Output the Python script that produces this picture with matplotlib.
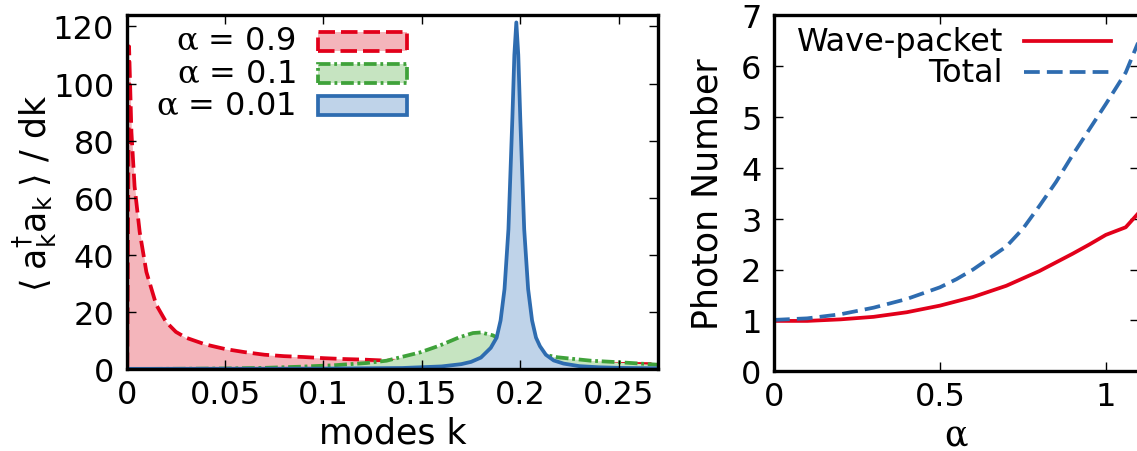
import matplotlib
matplotlib.use("Agg")
import matplotlib.pyplot as plt
from matplotlib.patches import Rectangle

plt.rcParams['font.family'] = ['DejaVu Sans']

# ---- left panel: mode occupation per dk ----
k_a09 = [0.0003, 0.0012, 0.0024, 0.004, 0.0066, 0.010, 0.015, 0.020, 0.025, 0.030,
         0.040, 0.050, 0.060, 0.070, 0.080, 0.090, 0.100, 0.110, 0.120, 0.130,
         0.140, 0.160, 0.180, 0.200, 0.220, 0.240, 0.260, 0.270]
n_a09 = [0.0, 113.0, 83.0, 64.0, 48.0, 34.0, 22.5, 16.5, 13.0, 11.0,
         8.6, 7.0, 5.9, 5.0, 4.5, 4.2, 3.8, 3.5, 3.3, 3.0,
         2.8, 2.5, 2.3, 2.1, 1.95, 1.85, 1.75, 1.7]

k_a01 = [0.0, 0.030, 0.050, 0.070, 0.088, 0.105, 0.122, 0.132, 0.139, 0.149,
         0.159, 0.169, 0.176, 0.180, 0.186, 0.190, 0.195, 0.200, 0.205, 0.210,
         0.219, 0.236, 0.252, 0.270]
n_a01 = [0.0, 0.1, 0.2, 0.4, 0.8, 1.3, 2.1, 2.9, 4.1, 5.8,
         8.2, 11.1, 12.6, 12.8, 11.8, 10.4, 8.8, 7.4, 6.2, 5.3,
         4.1, 2.9, 2.3, 1.5]

k_a001 = [0.0, 0.050, 0.100, 0.140, 0.160, 0.170, 0.175, 0.180, 0.185, 0.188,
          0.190, 0.192, 0.194, 0.196, 0.197, 0.198, 0.199, 0.200, 0.202, 0.204,
          0.206, 0.208, 0.210, 0.213, 0.217, 0.222, 0.230, 0.240, 0.250, 0.270]
n_a001 = [0.05, 0.09, 0.14, 0.35, 0.9, 1.7, 2.5, 4.0, 7.4, 11.0,
          17.0, 28.0, 49.0, 88.0, 110.0, 121.4, 110.0, 88.0, 49.0, 28.0,
          17.0, 11.0, 8.0, 5.0, 3.0, 1.9, 1.0, 0.6, 0.4, 0.25]

left_labels = ['0.9', '0.1', '0.01']

# ---- right panel: photon number vs alpha ----
alpha_wp = [0.0, 0.1, 0.2, 0.3, 0.4, 0.5, 0.6, 0.7, 0.8, 0.9, 0.95, 1.0, 1.06, 1.1]
n_wp = [0.99, 0.99, 1.02, 1.07, 1.16, 1.29, 1.46, 1.68, 1.97, 2.31, 2.49, 2.68, 2.83, 3.12]

alpha_tot = [0.0, 0.1, 0.2, 0.3, 0.4, 0.5, 0.55, 0.6, 0.7, 0.75, 0.8, 0.85, 0.9, 1.0, 1.06, 1.1]
n_tot = [1.01, 1.04, 1.12, 1.25, 1.42, 1.65, 1.81, 2.0, 2.45, 2.8, 3.25, 3.72, 4.25, 5.25, 5.87, 6.5]

RED, RED_F = '#e2001a', '#f4b5bb'
GREEN, GREEN_F = '#3fa23a', '#c6e4c1'
BLUE, BLUE_F = '#2e6cb0', '#bfd3e9'

W, H = 1137, 452
fig = plt.figure(figsize=(W / 100, H / 100), dpi=100)

def frac(x0, y0, x1, y1):
    return [x0 / W, 1 - y1 / H, (x1 - x0) / W, (y1 - y0) / H]

ax1 = fig.add_axes(frac(126.7, 16, 658, 370))
ax2 = fig.add_axes(frac(774, 16, 1139, 372.3))

LW = 2.7
TS = 23
DASH_R = (4.4, 1.6)
DASH_G = (3.4, 1.0, 0.75, 1.0)
DASH_B = (4.2, 1.9)

for ax in (ax1, ax2):
    for s in ax.spines.values():
        s.set_linewidth(2.4)
    ax.tick_params(direction='in', length=6.5, width=1.0, top=True, right=True,
                   labelsize=TS)
    ax.tick_params(axis='y', pad=9)
    ax.tick_params(axis='x', pad=7)

# left panel curves
ax1.fill_between(k_a09, n_a09, color=RED_F, lw=0, zorder=1.0)
ax1.plot(k_a09, n_a09, color=RED, lw=LW, dashes=DASH_R, zorder=1.1)
ax1.fill_between(k_a01, n_a01, color=GREEN_F, lw=0, zorder=1.2)
ax1.plot(k_a01, n_a01, color=GREEN, lw=LW, dashes=DASH_G, zorder=1.3)
ax1.fill_between(k_a001, n_a001, color=BLUE_F, lw=0, zorder=1.4)
ax1.plot(k_a001, n_a001, color=BLUE, lw=LW, zorder=1.5)

ax1.set_xlim(0, 0.27)
ax1.set_ylim(0, 124)
ax1.set_xticks([0, 0.05, 0.1, 0.15, 0.2, 0.25])
ax1.set_xticklabels(['0', '0.05', '0.1', '0.15', '0.2', '0.25'])
ax1.set_yticks([0, 20, 40, 60, 80, 100, 120])
ax1.set_xlabel('modes k', fontsize=25, labelpad=4)
ax1.set_ylabel(r'$\langle\;\mathrm{a_k^{\dagger}a_k}\;\rangle$ / dk', fontsize=25,
               math_fontfamily='dejavusans')
ax1.yaxis.set_label_coords(-0.128, 0.5)

# left legend: right-aligned labels with filled sample boxes
styles = [(RED, RED_F, (0, DASH_R)),
          (GREEN, GREEN_F, (0, DASH_G)),
          (BLUE, BLUE_F, '-')]
rows_y = [0.9257, 0.835, 0.744]
for lab, (lc, fc, ls), yc in zip(left_labels, styles, rows_y):
    ax1.text(0.318, yc, r'$\mathrm{\alpha}$ = ' + lab, transform=ax1.transAxes,
             ha='right', va='center', fontsize=TS, math_fontfamily='dejavuserif')
    ax1.add_patch(Rectangle((0.3595, yc - 0.026), 0.1675, 0.052,
                            transform=ax1.transAxes, facecolor=fc, edgecolor=lc,
                            lw=LW, linestyle=ls, clip_on=False, zorder=3))

# right panel curves
ax2.plot(alpha_wp, n_wp, color=RED, lw=LW, zorder=2)
ax2.plot(alpha_tot, n_tot, color=BLUE, lw=LW, dashes=DASH_B, zorder=2)
ax2.set_xlim(0, 1.1)
ax2.set_ylim(0, 7)
ax2.set_xticks([0, 0.5, 1])
ax2.set_xticklabels(['0', '0.5', '1'])
ax2.set_yticks(range(8))
ax2.yaxis.grid(True, color='#c4c4c4', lw=0.9)
for t in ax2.yaxis.get_major_ticks():
    t.gridline.set_visible(0 < t.get_loc() < 6)
ax2.set_xlabel(r'$\mathrm{\alpha}$', fontsize=25, labelpad=4,
               math_fontfamily='dejavuserif')
ax2.set_ylabel('Photon Number', fontsize=25, labelpad=12)

for lab, col, dsh, yc in [('Wave-packet', RED, None, 0.927), ('Total', BLUE, DASH_B, 0.84)]:
    ax2.text(0.627, yc, lab, transform=ax2.transAxes, ha='right', va='center', fontsize=TS)
    kw = dict(color=col, lw=LW, transform=ax2.transAxes, clip_on=False)
    if dsh:
        kw['dashes'] = dsh
    ax2.plot([0.685, 0.9225], [yc, yc], **kw)

fig.savefig('out.png', dpi=100)
